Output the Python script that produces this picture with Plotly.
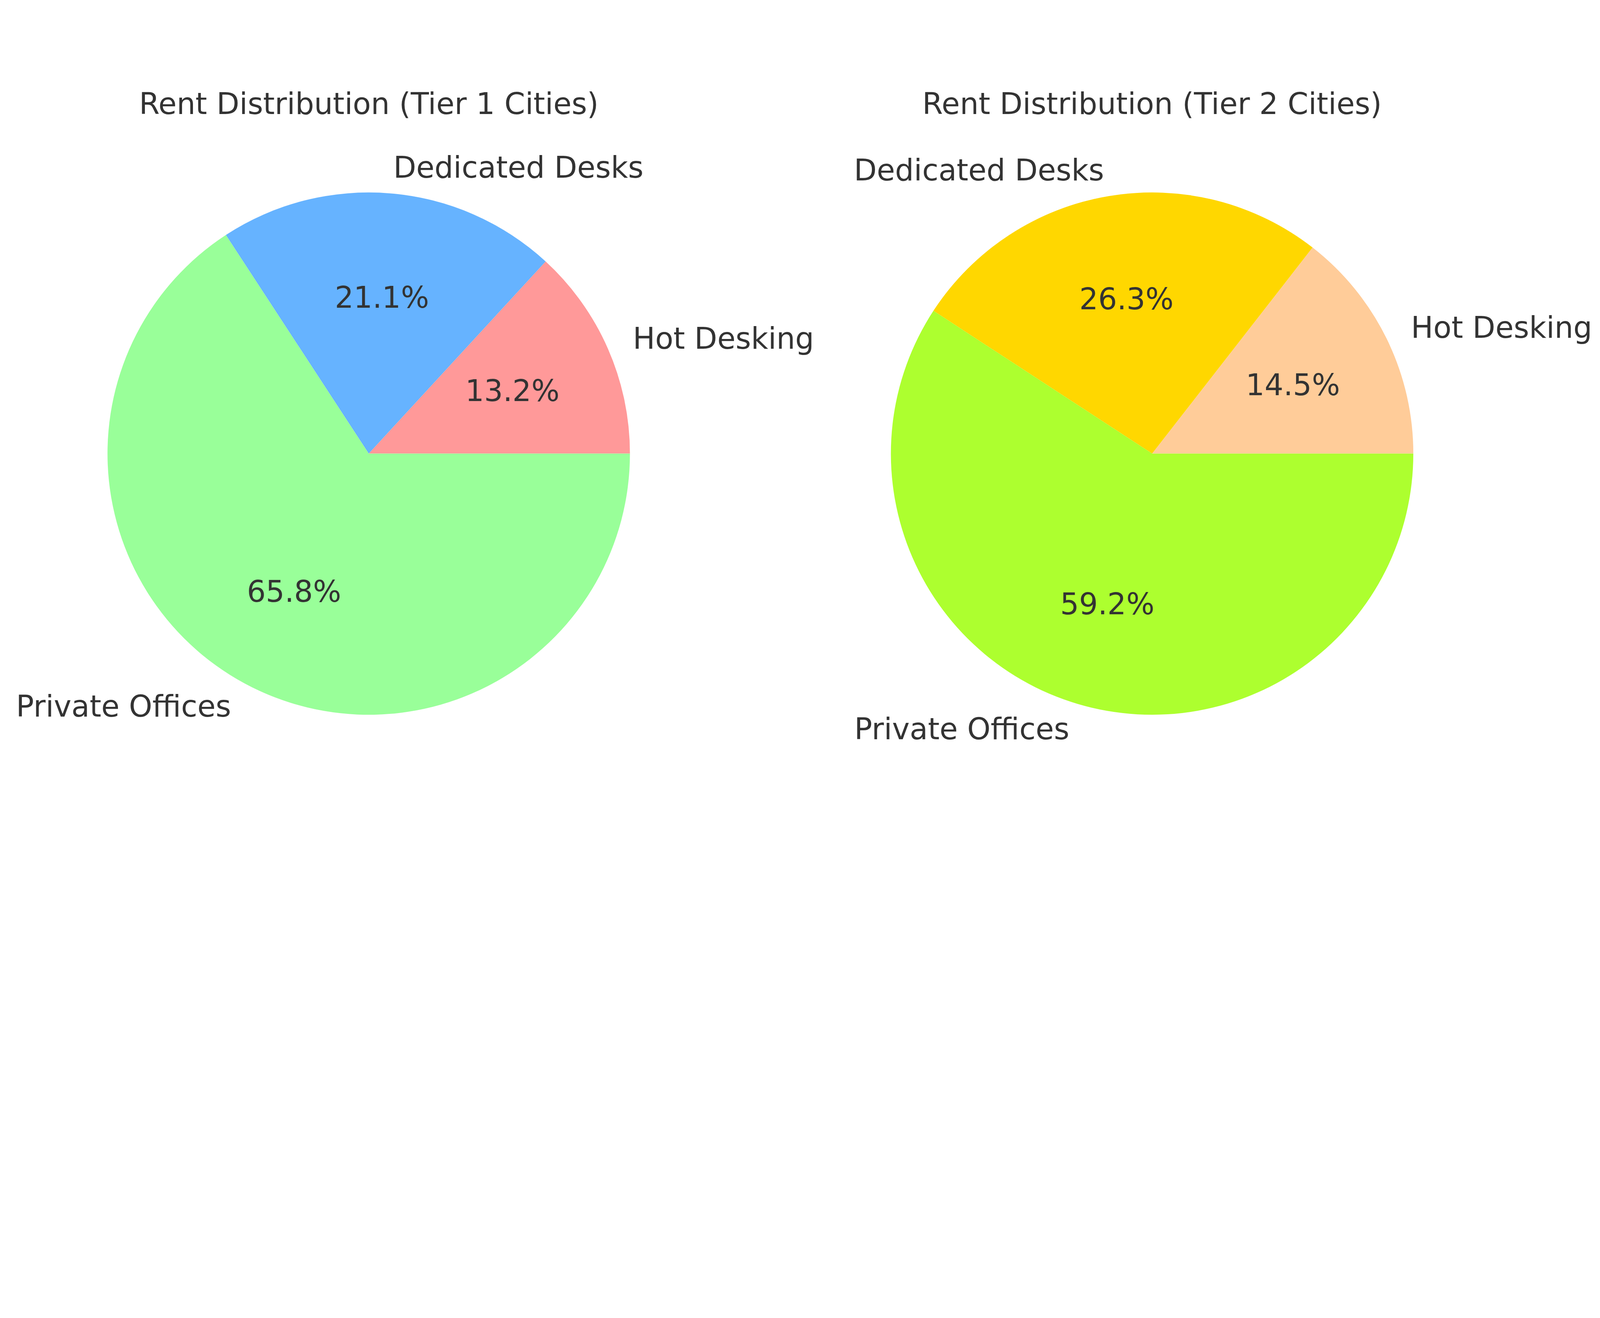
import math
import plotly.graph_objects as go

categories = ["Hot Desking", "Dedicated Desks", "Private Offices"]
tier1_values = [1000, 1600, 5000]
tier2_values = [1100, 2000, 4500]
tier1_colors = ["#ff9999", "#66b3ff", "#99ff99"]
tier2_colors = ["#ffcc99", "#ffd700", "#adff2f"]
titles = ["Rent Distribution (Tier 1 Cities)", "Rent Distribution (Tier 2 Cities)"]

FONT = "DejaVu Sans"
TXT = "#333333"

# reference geometry (in a 6000 x 3375 frame), scaled to the page width
RW, RH = 6000, 3375
W = 4090
H = round(W * RH / RW)
S = W / RW
FS = round(112 * S)
R = 981
centers = [(1373, 1692), (4315, 1692)]
TITLE_Y = 377


def dom(cx, cy):
    return dict(x=[(cx - R) / RW, (cx + R) / RW], y=[1 - (cy + R) / RH, 1 - (cy - R) / RH])


fig = go.Figure()
for (cx, cy), vals, cols in zip(centers, [tier1_values, tier2_values], [tier1_colors, tier2_colors]):
    total = sum(vals)
    # first slice starts at 3 o'clock and runs counterclockwise (plotly ccw: first slice ends at rotation)
    rot = 90 - 360 * vals[0] / total
    fig.add_trace(go.Pie(
        labels=categories, values=vals, sort=False, direction="counterclockwise", rotation=rot,
        marker=dict(colors=cols, line=dict(width=0)),
        textinfo="none", domain=dom(cx, cy), showlegend=False,
        hoverinfo="label+percent",
    ))
    # labels at 1.1 r and percentages at 0.6 r along each slice's mid angle
    start = 0.0
    for lab, v in zip(categories, vals):
        frac = v / total
        mid = math.radians((start + frac / 2) * 360)
        start += frac
        c, s = math.cos(mid), math.sin(mid)
        fig.add_annotation(
            text=lab, xref="paper", yref="paper",
            x=(cx + 1.1 * R * c) / RW, y=1 - (cy - 1.1 * R * s) / RH,
            xanchor="left" if c > 0 else "right", yanchor="middle", showarrow=False,
            font=dict(family=FONT, size=FS, color=TXT))
        fig.add_annotation(
            text=f"{frac * 100:.1f}%", xref="paper", yref="paper",
            x=(cx + 0.6 * R * c) / RW, y=1 - (cy - 0.6 * R * s) / RH,
            xanchor="center", yanchor="middle", showarrow=False,
            font=dict(family=FONT, size=FS, color=TXT))

for (cx, cy), t in zip(centers, titles):
    fig.add_annotation(text=t, x=cx / RW, y=1 - TITLE_Y / RH, xref="paper", yref="paper",
                       xanchor="center", yanchor="middle", showarrow=False,
                       font=dict(family=FONT, size=FS, color=TXT))

fig.update_layout(width=W, height=H, autosize=False, margin=dict(l=0, r=0, t=0, b=0),
                  paper_bgcolor="white", plot_bgcolor="white")
fig.write_html("out.html")
